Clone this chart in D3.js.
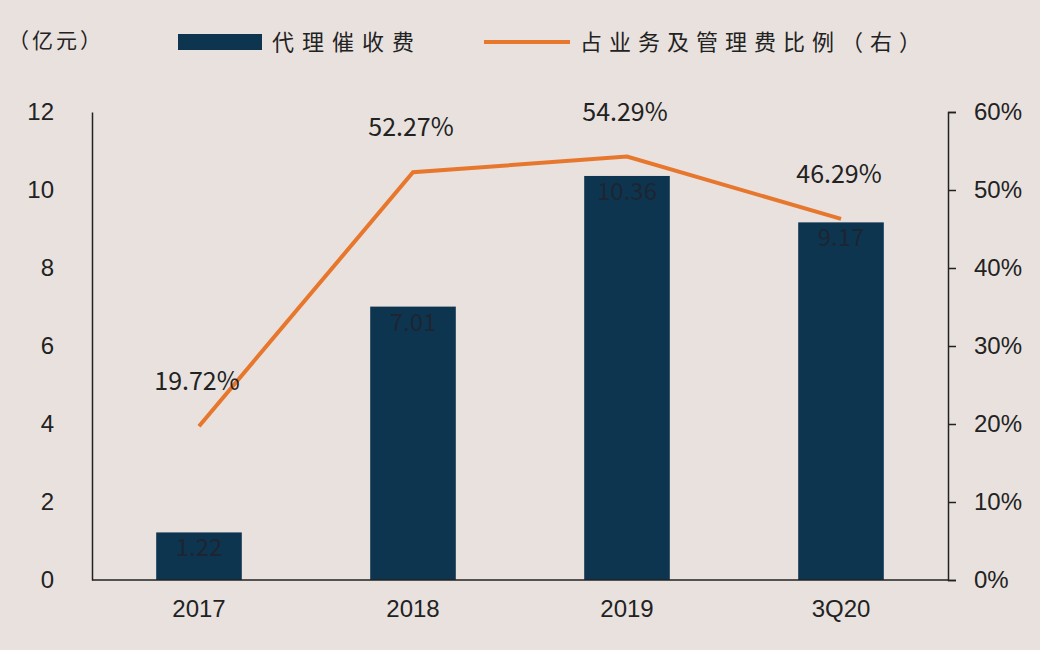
<!DOCTYPE html>
<html><head><meta charset="utf-8">
<script src="https://cdn.jsdelivr.net/npm/d3@7"></script>
<style>body{margin:0;background:#e8e1de;font-family:"Noto Sans CJK SC","DejaVu Sans",sans-serif}</style>
</head><body><div id="chart"></div>
<script>
const categories = ["2017", "2018", "2019", "3Q20"];
const fees = [1.22, 7.01, 10.36, 9.17];
const ratios = [19.72, 52.27, 54.29, 46.29];
const leftTicks = [0, 2, 4, 6, 8, 10, 12];
const rightTicks = [0, 10, 20, 30, 40, 50, 60];

const width = 1040, height = 650;
const svg = d3.select("#chart").append("svg").attr("width", width).attr("height", height);
svg.append("rect").attr("width", width).attr("height", height).attr("fill", "#e8e1de");

const x = d3.scaleBand().domain(categories).range([92, 948]).paddingInner(0.6).paddingOuter(0.3);
const y = d3.scaleLinear().domain([0, 12]).range([580, 112]);
const y2 = d3.scaleLinear().domain([0, 60]).range([580, 112]);
const cx = d => x(d) + x.bandwidth() / 2;

// bars
svg.selectAll(".bar").data(fees).enter().append("rect")
    .attr("x", (d, i) => x(categories[i]))
    .attr("y", d => y(d))
    .attr("width", x.bandwidth())
    .attr("height", d => y(0) - y(d))
    .attr("fill", "#0e3550");

svg.selectAll(".val").data(fees).enter().append("text")
    .attr("x", (d, i) => cx(categories[i]))
    .attr("y", d => y(d) + 24)
    .attr("text-anchor", "middle").attr("font-size", 24).attr("fill", "#1c2530")
    .text(d => d.toFixed(2));

// line
const line = d3.line().x((d, i) => cx(categories[i])).y(d => y2(d));
svg.append("path").datum(ratios).attr("d", line)
    .attr("fill", "none").attr("stroke", "#e8772e").attr("stroke-width", 4);

svg.selectAll(".pct").data(ratios).enter().append("text")
    .attr("x", (d, i) => cx(categories[i]) - 2)
    .attr("y", d => y2(d) - 36)
    .attr("text-anchor", "middle").attr("font-size", 25).attr("fill", "#222")
    .text(d => d.toFixed(2) + "%");

// axes
const axisStyle = g => {
    g.select(".domain").attr("stroke", "#222").attr("stroke-width", 1.5);
    g.selectAll(".tick line").attr("stroke", "#222").attr("stroke-width", 1.5);
    g.selectAll("text").attr("font-size", 24).attr("fill", "#222").attr("font-family", "Liberation Sans, DejaVu Sans, sans-serif");
};
svg.append("g").attr("transform", "translate(92,0)")
    .call(d3.axisLeft(y).tickValues(leftTicks).tickSize(0).tickPadding(38))
    .call(axisStyle);
svg.append("g").attr("transform", "translate(948,0)")
    .call(d3.axisRight(y2).tickValues(rightTicks).tickSize(8).tickPadding(18).tickFormat(d => d + "%"))
    .call(axisStyle);
svg.append("g").attr("transform", "translate(0,580)")
    .call(d3.axisBottom(x).tickSize(0).tickPadding(20))
    .call(axisStyle)
    .call(g => g.select(".domain").attr("d", "M92,0H948"));

// legend
svg.append("text").attr("x", 8).attr("y", 48).attr("font-size", 21).attr("fill", "#222")
    .attr("letter-spacing", 3).text("（亿元）");
svg.append("rect").attr("x", 178).attr("y", 34).attr("width", 84).attr("height", 16).attr("fill", "#0e3550");
svg.append("text").attr("x", 272).attr("y", 50).attr("font-size", 22).attr("fill", "#222")
    .attr("letter-spacing", 8).text("代理催收费");
svg.append("line").attr("x1", 484).attr("x2", 570).attr("y1", 42).attr("y2", 42)
    .attr("stroke", "#e8772e").attr("stroke-width", 4);
svg.append("text").attr("x", 580).attr("y", 50).attr("font-size", 22).attr("fill", "#222")
    .attr("letter-spacing", 7).text("占业务及管理费比例（右）");
</script></body></html>
